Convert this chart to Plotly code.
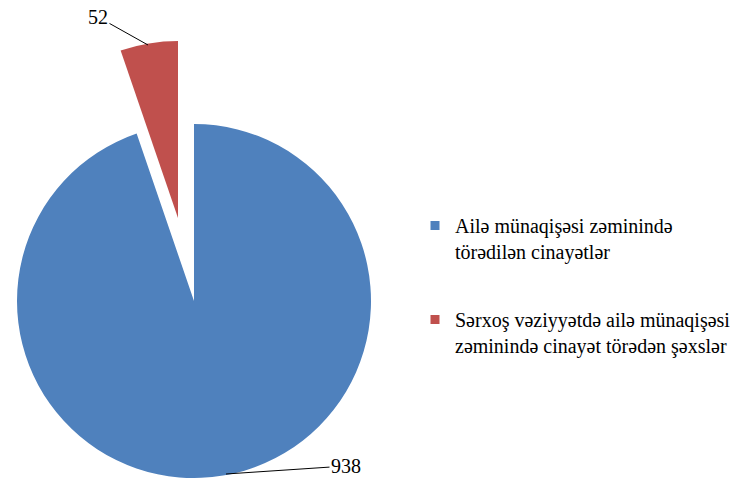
import plotly.graph_objects as go

labels = ["Ailə münaqişəsi zəminində<br>törədilən cinayətlər",
          "Sərxoş vəziyyətdə ailə münaqişəsi<br>zəminində cinayət törədən şəxslər"]
values = [938, 52]
colors = ["#4F81BD", "#C0504D"]

W, H = 755, 478
R = 177
FONT = "'Liberation Serif', 'Times New Roman', serif"

def dom(cx, cy, r=R):
    return dict(x=[(cx - r) / W, (cx + r) / W], y=[(H - cy - r) / H, (H - cy + r) / H])

def clamp(d):
    return {k: [max(0, v[0]), min(1, v[1])] for k, v in d.items()}

fig = go.Figure()
# main (blue) slice, in place
fig.add_trace(go.Pie(labels=labels, values=values, sort=False, direction="clockwise", rotation=0,
                     marker=dict(colors=[colors[0], "rgba(0,0,0,0)"]),
                     textinfo="none", hoverinfo="label+value", showlegend=False,
                     domain=clamp(dom(194, 301))))
# exploded (red) slice
fig.add_trace(go.Pie(labels=labels, values=values, sort=False, direction="clockwise", rotation=0,
                     marker=dict(colors=["rgba(0,0,0,0)", colors[1]]),
                     textinfo="none", hoverinfo="label+value", showlegend=False,
                     domain=clamp(dom(178, 218))))

# legend entries
for i, (lab, col) in enumerate(zip(labels, colors)):
    fig.add_trace(go.Scatter(x=[None], y=[None], mode="markers", name=lab,
                             legendgroup=f"g{i}",
                             marker=dict(symbol="square", size=9, color=col)))

def P(px, py):
    return px / W, 1 - py / H

ann = []
x, y = P(148, 45)
ann.append(dict(x=x, y=y, xref="paper", yref="paper", text=str(values[1]), showarrow=True,
                arrowhead=0, arrowwidth=1, arrowcolor="#000", ax=-50, ay=-28,
                font=dict(family=FONT, size=20, color="#000")))
x, y = P(226, 474)
ann.append(dict(x=x, y=y, xref="paper", yref="paper", text=str(values[0]), showarrow=True,
                arrowhead=0, arrowwidth=1, arrowcolor="#000", ax=120, ay=-8,
                font=dict(family=FONT, size=20, color="#000")))

fig.update_layout(
    width=W, height=H, margin=dict(l=0, r=0, t=0, b=0),
    paper_bgcolor="white", plot_bgcolor="white",
    font=dict(family=FONT, color="#000"),
    xaxis=dict(visible=False), yaxis=dict(visible=False),
    annotations=ann,
    legend=dict(x=415 / W, y=1 - 206 / H, xanchor="left", yanchor="top",
                font=dict(family=FONT, size=20, color="#000"),
                tracegroupgap=39, valign="top", bgcolor="rgba(0,0,0,0)"),
)
fig.write_html("out.html")
